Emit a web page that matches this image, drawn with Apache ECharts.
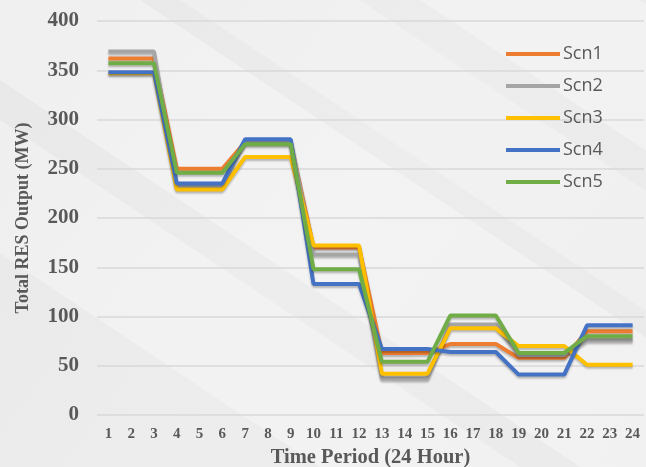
<!DOCTYPE html>
<html>
<head>
<meta charset="utf-8">
<script src="https://cdn.jsdelivr.net/npm/echarts@6/dist/echarts.min.js"></script>
<style>
html, body { margin: 0; padding: 0; }
#chart { width: 646px; height: 467px; }
</style>
</head>
<body>
<div id="chart"></div>
<script>
// time periods 1..24
var periods = ['1','2','3','4','5','6','7','8','9','10','11','12','13','14','15','16','17','18','19','20','21','22','23','24']
var scn1 = [362,362,362,250,250,250,277,277,277,170,170,170,63,63,63,72,72,72,58,58,58,85,85,85]
var scn2 = [369,369,369,232,232,232,278,278,278,163,163,163,37,37,37,92,92,92,61,61,61,76,76,76]
var scn3 = [347,347,347,229,229,229,262,262,262,172,172,172,42,42,42,88,88,88,70,70,70,51,51,51]
var scn4 = [348,348,348,235,235,235,280,280,280,133,133,133,67,67,67,64,64,64,41,41,41,91,91,91]
var scn5 = [357,357,357,246,246,246,275,275,275,148,148,148,54,54,54,101,101,101,63,63,63,80,80,80]
var names = ['Scn1', 'Scn2', 'Scn3', 'Scn4', 'Scn5']
var colors = ['#ed7d31', '#a5a5a5', '#ffc000', '#4472c4', '#70ad47']

var allData = [scn1, scn2, scn3, scn4, scn5]
var series = []
for (var i = 0; i < allData.length; i++) {
  series.push({
    name: names[i],
    type: 'line',
    data: allData[i],
    showSymbol: false,
    symbol: 'none',
    lineStyle: {
      width: 4,
      color: colors[i],
      shadowColor: 'rgba(0,0,0,0.25)',
      shadowBlur: 2,
      shadowOffsetY: 2
    },
    itemStyle: { color: colors[i] }
  })
}

// soft diagonal bands in the background
function band(x0, w, a) {
  return {
    type: 'polygon',
    silent: true,
    z: -10,
    shape: { points: [[x0, 0], [x0 + w, 0], [x0 + w + 700, 467], [x0 + 700, 467]] },
    style: { fill: 'rgba(255,255,255,' + a + ')' }
  }
}

var serifFont = '"Liberation Serif", "Times New Roman", serif'

var myChart = echarts.init(document.getElementById('chart'))
myChart.setOption({
  backgroundColor: {
    type: 'linear', x: 0, y: 0, x2: 1, y2: 1,
    colorStops: [
      { offset: 0, color: '#e8e8e8' },
      { offset: 0.5, color: '#ededed' },
      { offset: 1, color: '#eaeaea' }
    ]
  },
  graphic: [
    band(-380, 200, 0.3),
    band(-120, 260, 0.35),
    band(180, 180, 0.25),
    band(420, 220, 0.3)
  ],
  animation: false,
  grid: { left: 97, right: 2, top: 21, bottom: 52, outerBoundsMode: 'none' },
  legend: {
    orient: 'vertical',
    left: 501,
    top: 40,
    icon: 'rect',
    itemWidth: 54,
    itemHeight: 4,
    itemGap: 14,
    textStyle: { fontFamily: 'Open Sans', fontSize: 18, color: '#595959', padding: [0, 0, 0, -2] },
    data: names
  },
  xAxis: {
    type: 'category',
    data: periods,
    name: 'Time Period (24 Hour)',
    nameLocation: 'middle',
    nameGap: 31,
    nameTextStyle: { fontFamily: serifFont, fontWeight: 'bold', fontSize: 20.5, color: '#595959' },
    axisLine: { show: false },
    axisTick: { show: false },
    axisLabel: { fontFamily: serifFont, fontWeight: 'bold', fontSize: 15, color: '#595959', margin: 12 }
  },
  yAxis: {
    type: 'value',
    min: 0,
    max: 400,
    interval: 50,
    name: 'Total RES Output (MW)',
    nameLocation: 'middle',
    nameGap: 65,
    nameTextStyle: { fontFamily: serifFont, fontWeight: 'bold', fontSize: 18, color: '#595959' },
    axisLine: { show: false },
    axisTick: { show: false },
    axisLabel: {
      margin: 18,
      formatter: '{v|{value}}',
      rich: {
        v: { fontFamily: serifFont, fontWeight: 'bold', fontSize: 21, color: '#595959' }
      }
    },
    splitLine: { lineStyle: { color: '#d9d9d9', width: 1.5 } }
  },
  series: series
})
</script>
</body>
</html>
